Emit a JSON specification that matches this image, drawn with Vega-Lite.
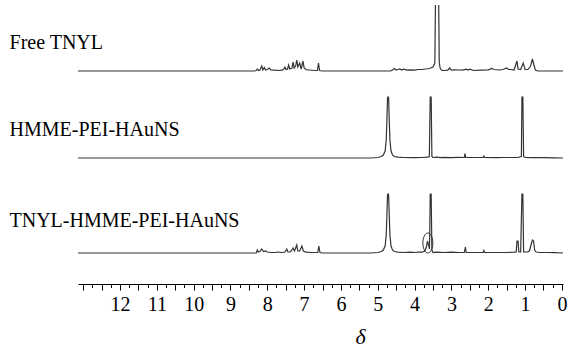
{
  "$schema": "https://vega.github.io/schema/vega-lite/v6.json",
  "width": 485,
  "height": 279,
  "autosize": {"type": "none"},
  "padding": {"left": 78, "top": 5, "right": 6, "bottom": 65},
  "background": "white",
  "config": {"view": {"stroke": null}},
  "datasets": {
    "free": [
      {"d": 13.14, "v": 0}, {"d": 8.35, "v": 0}, {"d": 8.3, "v": 0.5}, {"d": 8.27, "v": 2}, {"d": 8.24, "v": 0.5},
      {"d": 8.2, "v": 1}, {"d": 8.15, "v": 5}, {"d": 8.12, "v": 1}, {"d": 8.08, "v": 3.5}, {"d": 8.05, "v": 1},
      {"d": 8.0, "v": 1.5}, {"d": 7.95, "v": 3}, {"d": 7.9, "v": 1}, {"d": 7.8, "v": 0.8}, {"d": 7.7, "v": 0.5},
      {"d": 7.6, "v": 0.8}, {"d": 7.55, "v": 2}, {"d": 7.52, "v": 4}, {"d": 7.49, "v": 1.5}, {"d": 7.45, "v": 2},
      {"d": 7.42, "v": 6}, {"d": 7.39, "v": 2}, {"d": 7.33, "v": 3}, {"d": 7.3, "v": 9}, {"d": 7.27, "v": 3},
      {"d": 7.23, "v": 5}, {"d": 7.2, "v": 11}, {"d": 7.17, "v": 4}, {"d": 7.12, "v": 8}, {"d": 7.08, "v": 2},
      {"d": 7.03, "v": 10}, {"d": 7.0, "v": 3}, {"d": 6.95, "v": 1.5}, {"d": 6.9, "v": 1}, {"d": 6.85, "v": 1},
      {"d": 6.7, "v": 0.5}, {"d": 6.64, "v": 0.5}, {"d": 6.61, "v": 8}, {"d": 6.58, "v": 0.5}, {"d": 6.5, "v": 0},
      {"d": 4.65, "v": 0}, {"d": 4.6, "v": 1}, {"d": 4.55, "v": 2.5}, {"d": 4.5, "v": 1}, {"d": 4.45, "v": 1.5},
      {"d": 4.4, "v": 2}, {"d": 4.35, "v": 1}, {"d": 4.3, "v": 1.8}, {"d": 4.2, "v": 0.8}, {"d": 4.1, "v": 1.2},
      {"d": 4.0, "v": 0.8}, {"d": 3.9, "v": 1.5}, {"d": 3.8, "v": 1.5}, {"d": 3.7, "v": 2}, {"d": 3.6, "v": 2.5},
      {"d": 3.5, "v": 4}, {"d": 3.45, "v": 8}, {"d": 3.42, "v": 120}, {"d": 3.36, "v": 120}, {"d": 3.33, "v": 8},
      {"d": 3.3, "v": 2}, {"d": 3.25, "v": 0.5}, {"d": 3.2, "v": 0.5}, {"d": 3.1, "v": 0.8}, {"d": 3.05, "v": 3},
      {"d": 3.0, "v": 0.8}, {"d": 2.9, "v": 1.2}, {"d": 2.8, "v": 1}, {"d": 2.7, "v": 0.8}, {"d": 2.6, "v": 1.8},
      {"d": 2.55, "v": 1}, {"d": 2.5, "v": 1.8}, {"d": 2.4, "v": 0.5}, {"d": 2.2, "v": 0.8}, {"d": 2.0, "v": 1.2},
      {"d": 1.9, "v": 2.5}, {"d": 1.85, "v": 1.5}, {"d": 1.7, "v": 1}, {"d": 1.6, "v": 1.5}, {"d": 1.5, "v": 3},
      {"d": 1.45, "v": 1.5}, {"d": 1.4, "v": 1.5}, {"d": 1.3, "v": 1}, {"d": 1.22, "v": 10}, {"d": 1.19, "v": 2},
      {"d": 1.12, "v": 1.5}, {"d": 1.05, "v": 8}, {"d": 1.0, "v": 1.5}, {"d": 0.92, "v": 1.5}, {"d": 0.85, "v": 5},
      {"d": 0.8, "v": 12}, {"d": 0.76, "v": 6}, {"d": 0.72, "v": 1}, {"d": 0.65, "v": 0}, {"d": -0.03, "v": 0}
    ],
    "hmme": [
      {"d": 13.14, "v": 0}, {"d": 5.2, "v": 0}, {"d": 5.0, "v": 0.5}, {"d": 4.9, "v": 1.5}, {"d": 4.85, "v": 3},
      {"d": 4.8, "v": 7}, {"d": 4.77, "v": 18}, {"d": 4.75, "v": 40}, {"d": 4.735, "v": 60}, {"d": 4.72, "v": 61},
      {"d": 4.705, "v": 60}, {"d": 4.69, "v": 40}, {"d": 4.67, "v": 18}, {"d": 4.64, "v": 7}, {"d": 4.6, "v": 3},
      {"d": 4.55, "v": 1.5}, {"d": 4.45, "v": 0.8}, {"d": 4.3, "v": 0.5}, {"d": 4.0, "v": 0.3}, {"d": 3.8, "v": 0.5},
      {"d": 3.65, "v": 0.8}, {"d": 3.6, "v": 1.5}, {"d": 3.575, "v": 61}, {"d": 3.55, "v": 61}, {"d": 3.53, "v": 1.5},
      {"d": 3.5, "v": 0.5}, {"d": 3.4, "v": 0.8}, {"d": 3.3, "v": 0.3}, {"d": 3.2, "v": 0.6}, {"d": 3.0, "v": 0.4},
      {"d": 2.8, "v": 0.6}, {"d": 2.65, "v": 0.5}, {"d": 2.63, "v": 4.5}, {"d": 2.61, "v": 0.5}, {"d": 2.4, "v": 0.5},
      {"d": 2.14, "v": 0.5}, {"d": 2.12, "v": 2}, {"d": 2.1, "v": 0.5}, {"d": 1.8, "v": 0.3}, {"d": 1.6, "v": 0.5},
      {"d": 1.2, "v": 0.5}, {"d": 1.1, "v": 1.5}, {"d": 1.085, "v": 61}, {"d": 1.06, "v": 61}, {"d": 1.04, "v": 1.5},
      {"d": 1.0, "v": 0.5}, {"d": 0.8, "v": 0.3}, {"d": 0.5, "v": 0.3}, {"d": 0.2, "v": 0.2}, {"d": -0.03, "v": 0}
    ],
    "conj": [
      {"d": 13.14, "v": 0}, {"d": 8.3, "v": 0}, {"d": 8.27, "v": 3}, {"d": 8.24, "v": 1}, {"d": 8.2, "v": 1.5},
      {"d": 8.15, "v": 4}, {"d": 8.1, "v": 1.5}, {"d": 8.05, "v": 2}, {"d": 8.0, "v": 1}, {"d": 7.9, "v": 0.5},
      {"d": 7.8, "v": 0.5}, {"d": 7.72, "v": 1}, {"d": 7.6, "v": 0.5}, {"d": 7.52, "v": 1}, {"d": 7.47, "v": 4},
      {"d": 7.44, "v": 1}, {"d": 7.38, "v": 1}, {"d": 7.33, "v": 3}, {"d": 7.3, "v": 5}, {"d": 7.26, "v": 2},
      {"d": 7.2, "v": 8}, {"d": 7.17, "v": 2}, {"d": 7.12, "v": 2}, {"d": 7.06, "v": 7}, {"d": 7.02, "v": 2},
      {"d": 6.95, "v": 0.8}, {"d": 6.8, "v": 0.5}, {"d": 6.63, "v": 0.5}, {"d": 6.6, "v": 7}, {"d": 6.57, "v": 0.5},
      {"d": 6.5, "v": 0}, {"d": 5.2, "v": 0}, {"d": 5.0, "v": 0.5}, {"d": 4.9, "v": 1.5}, {"d": 4.85, "v": 3},
      {"d": 4.8, "v": 7}, {"d": 4.77, "v": 18}, {"d": 4.75, "v": 40}, {"d": 4.735, "v": 58}, {"d": 4.72, "v": 59},
      {"d": 4.705, "v": 58}, {"d": 4.69, "v": 40}, {"d": 4.67, "v": 18}, {"d": 4.64, "v": 7}, {"d": 4.6, "v": 3},
      {"d": 4.55, "v": 1.5}, {"d": 4.45, "v": 0.8}, {"d": 4.3, "v": 0.5}, {"d": 4.1, "v": 0.8}, {"d": 4.0, "v": 0.5},
      {"d": 3.9, "v": 1}, {"d": 3.8, "v": 0.8}, {"d": 3.72, "v": 2}, {"d": 3.68, "v": 6}, {"d": 3.65, "v": 12},
      {"d": 3.62, "v": 8}, {"d": 3.595, "v": 4}, {"d": 3.575, "v": 59}, {"d": 3.55, "v": 59}, {"d": 3.53, "v": 3},
      {"d": 3.5, "v": 0.5}, {"d": 3.4, "v": 0.8}, {"d": 3.2, "v": 0.5}, {"d": 3.0, "v": 0.8}, {"d": 2.8, "v": 0.5},
      {"d": 2.65, "v": 0.5}, {"d": 2.62, "v": 6}, {"d": 2.6, "v": 0.5}, {"d": 2.3, "v": 0.5}, {"d": 2.14, "v": 0.5},
      {"d": 2.12, "v": 2.5}, {"d": 2.1, "v": 0.5}, {"d": 1.8, "v": 0.5}, {"d": 1.5, "v": 0.5}, {"d": 1.3, "v": 0.8},
      {"d": 1.24, "v": 1}, {"d": 1.22, "v": 12}, {"d": 1.19, "v": 12}, {"d": 1.17, "v": 1}, {"d": 1.12, "v": 1},
      {"d": 1.085, "v": 59}, {"d": 1.06, "v": 59}, {"d": 1.04, "v": 1}, {"d": 0.95, "v": 1}, {"d": 0.88, "v": 2},
      {"d": 0.84, "v": 8}, {"d": 0.8, "v": 13}, {"d": 0.77, "v": 12}, {"d": 0.74, "v": 3}, {"d": 0.7, "v": 1},
      {"d": 0.6, "v": 0.5}, {"d": 0.4, "v": 0.5}, {"d": 0.2, "v": 0.3}, {"d": -0.03, "v": 0}
    ]
  },
  "encoding": {
    "x": {
      "field": "d",
      "type": "quantitative",
      "scale": {"domain": [-0.03, 13.14], "reverse": true, "nice": false, "zero": false},
      "title": "δ",
      "axis": {
        "values": [0, 0.25, 0.5, 0.75, 1, 1.25, 1.5, 1.75, 2, 2.25, 2.5, 2.75, 3, 3.25, 3.5, 3.75, 4, 4.25, 4.5, 4.75, 5, 5.25, 5.5, 5.75, 6, 6.25, 6.5, 6.75, 7, 7.25, 7.5, 7.75, 8, 8.25, 8.5, 8.75, 9, 9.25, 9.5, 9.75, 10, 10.25, 10.5, 10.75, 11, 11.25, 11.5, 11.75, 12, 12.25, 12.5, 12.75, 13],
        "labelExpr": "datum.value % 1 === 0 && datum.value < 13 ? format(datum.value, 'd') : ''",
        "tickSize": {"condition": {"test": "datum.value % 0.5 === 0", "value": 6}, "value": 3.5},
        "labelOverlap": false,
        "labelFlush": false,
        "grid": false,
        "labelFont": "Liberation Serif",
        "labelFontSize": 20,
        "labelColor": "#000000",
        "labelPadding": 4,
        "domainColor": "#000000",
        "domainWidth": 1.2,
        "tickColor": "#000000",
        "tickWidth": 1,
        "titleFont": "Liberation Serif",
        "titleFontStyle": "italic",
        "titleFontWeight": "normal",
        "titleFontSize": 22,
        "titleColor": "#000000",
        "titleX": 282,
        "titleY": 52,
        "titleAlign": "center",
        "titleBaseline": "middle"
      }
    }
  },
  "layer": [
    {
      "layer": [
        {
          "data": {"name": "free"},
          "mark": {"type": "line", "color": "#333333", "strokeWidth": 1.2, "clip": true},
          "encoding": {
            "y": {"field": "v", "type": "quantitative", "scale": {"domain": [-213, 66], "nice": false, "zero": false}, "axis": null}
          }
        },
        {
          "data": {"values": [{"label": "Free TNYL", "d": 15}]},
          "mark": {"type": "text", "align": "left", "baseline": "alphabetic", "font": "Liberation Serif", "fontSize": 20, "color": "#000000"},
          "encoding": {
            "y": {"datum": 22, "type": "quantitative"},
            "text": {"field": "label"}
          }
        }
      ]
    },
    {
      "layer": [
        {
          "data": {"name": "hmme"},
          "mark": {"type": "line", "color": "#333333", "strokeWidth": 1.2, "clip": true},
          "encoding": {
            "y": {"field": "v", "type": "quantitative", "scale": {"domain": [-126, 153], "nice": false, "zero": false}, "axis": null}
          }
        },
        {
          "data": {"values": [{"label": "HMME-PEI-HAuNS", "d": 15}]},
          "mark": {"type": "text", "align": "left", "baseline": "alphabetic", "font": "Liberation Serif", "fontSize": 20, "color": "#000000"},
          "encoding": {
            "y": {"datum": 22, "type": "quantitative"},
            "text": {"field": "label"}
          }
        }
      ]
    },
    {
      "layer": [
        {
          "data": {"name": "conj"},
          "mark": {"type": "line", "color": "#333333", "strokeWidth": 1.2, "clip": true},
          "encoding": {
            "y": {"field": "v", "type": "quantitative", "scale": {"domain": [-31, 248], "nice": false, "zero": false}, "axis": null}
          }
        },
        {
          "data": {"values": [{"label": "TNYL-HMME-PEI-HAuNS", "d": 15}]},
          "mark": {"type": "text", "align": "left", "baseline": "alphabetic", "font": "Liberation Serif", "fontSize": 20, "color": "#000000"},
          "encoding": {
            "y": {"datum": 26, "type": "quantitative"},
            "text": {"field": "label"}
          }
        },
        {
          "data": {"values": [{"d": 3.64}]},
          "mark": {"type": "point", "shape": "M0,-1A0.5,1 0 1,1 0,1A0.5,1 0 1,1 0,-1Z", "size": 400, "filled": false, "stroke": "#333333", "strokeWidth": 1, "opacity": 1},
          "encoding": {
            "y": {"datum": 10, "type": "quantitative"}
          }
        }
      ]
    }
  ],
  "resolve": {"scale": {"y": "independent"}, "axis": {"y": "independent"}}
}
